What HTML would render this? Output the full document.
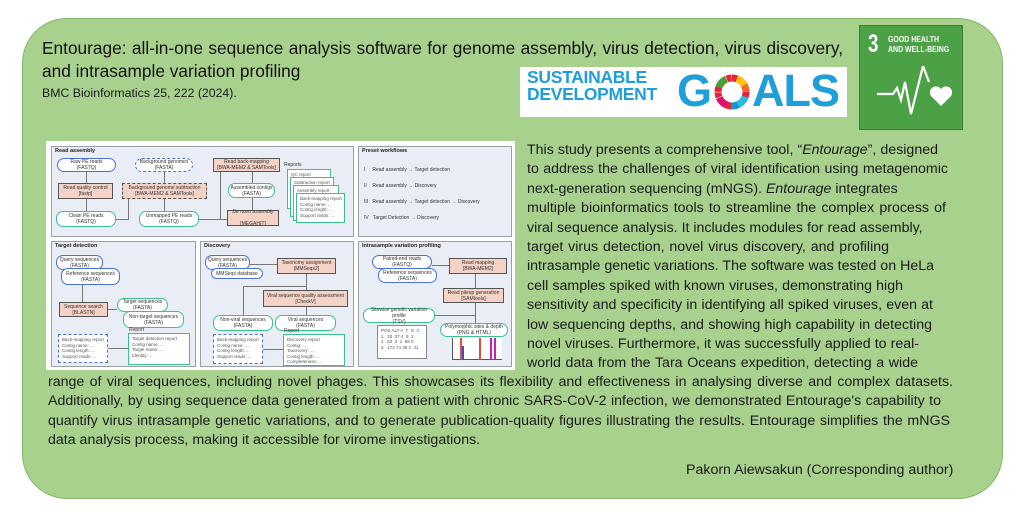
<!DOCTYPE html>
<html><head><meta charset="utf-8">
<style>
*{margin:0;padding:0;box-sizing:border-box}
body{width:1024px;height:526px;background:#fff;position:relative;overflow:hidden;font-family:"Liberation Sans",sans-serif;color:#1a1a1a}
.card{position:absolute;left:22px;top:18px;width:981px;height:481px;background:#a9d18e;border:1.5px solid #86b86a;border-radius:45px}
.t{position:absolute;white-space:nowrap}
.title{left:42px;font-size:17.3px;color:#111}
.fig{position:absolute;left:46px;top:141px;width:469px;height:229px;background:#fff}
.p{position:absolute;background:#e9edf5;border:1px solid #9aa0a8}
.ph{position:absolute;left:3px;top:1px;font-size:5.5px;font-weight:bold;color:#222}
.n{position:absolute;font-size:5px;line-height:6px;text-align:center;color:#333;display:flex;align-items:center;justify-content:center;flex-direction:column}
.b{background:#fff;border:1px solid #4a6fd8;border-radius:7px}
.g{background:#fff;border:1px solid #3dbf8f;border-radius:7px}
.k{background:#f4d2c6;border:1px solid #555}
.dash{border-style:dashed}
.doc{position:absolute;background:#fff;border:1px solid #3dbf8f;font-size:4.5px;line-height:5.5px;color:#555;padding:2px 3px;white-space:pre}
.docb{border:1px dashed #4a6fd8}
.line{position:absolute;background:#777}
.body{position:absolute;font-size:14.2px;line-height:19.4px;color:#1a1a1a}
.body span{display:block;white-space:nowrap;text-align:justify;text-align-last:justify;overflow:visible}
</style></head><body>
<div class="card"></div>
<div class="t title" style="top:38px;width:801px;text-align:justify;text-align-last:justify">Entourage: all-in-one sequence analysis software for genome assembly, virus detection, virus discovery,</div>
<div class="t title" style="top:61px">and intrasample variation profiling</div>
<div class="t" style="left:42px;top:86px;font-size:12.3px">BMC Bioinformatics 25, 222 (2024).</div>

<div style="position:absolute;left:520px;top:67px;width:327px;height:50px;background:#fff"></div>
<div class="t" style="left:527px;top:69px;font-size:17.5px;line-height:17px;font-weight:bold;color:#1f9fd9;letter-spacing:-0.3px">SUSTAINABLE<br>DEVELOPMENT</div>
<div class="t" style="left:677px;top:66px;font-size:45px;line-height:50px;font-weight:bold;color:#1f9fd9;letter-spacing:-1px">G</div>
<svg style="position:absolute;left:712px;top:72px" width="40" height="40" viewBox="-20 -20 40 40">
<g fill="none" stroke-width="7">
<circle r="14" stroke="#e5243b" stroke-dasharray="5 0.5" transform="rotate(-90)"/>
<circle r="14" stroke="#4c9f38" stroke-dasharray="11 77" transform="rotate(200)"/>
<circle r="14" stroke="#fcc30b" stroke-dasharray="11 77" transform="rotate(-70)"/>
<circle r="14" stroke="#26bde2" stroke-dasharray="11 77" transform="rotate(20)"/>
<circle r="14" stroke="#dd1367" stroke-dasharray="11 77" transform="rotate(110)"/>
<circle r="14" stroke="#fd6925" stroke-dasharray="6 82" transform="rotate(-30)"/>
<circle r="14" stroke="#0a97d9" stroke-dasharray="6 82" transform="rotate(65)"/>
</g></svg>
<div class="t" style="left:752px;top:66px;font-size:45px;line-height:50px;font-weight:bold;color:#1f9fd9;letter-spacing:-1px">ALS</div>

<div style="position:absolute;left:859px;top:25px;width:104px;height:105px;background:#4ca146;border:1px solid #3a7d35"></div>
<div class="t" style="left:868px;top:31px;font-size:25px;font-weight:bold;color:#fff;line-height:26px;transform:scaleX(0.75);transform-origin:left">3</div>
<div class="t" style="left:888px;top:34px;font-size:8.5px;font-weight:bold;color:#fff;line-height:10px;transform:scaleX(0.82);transform-origin:left">GOOD HEALTH<br>AND WELL-BEING</div>
<svg style="position:absolute;left:873px;top:66px" width="80" height="50" viewBox="0 0 80 50">
<polyline points="4,28 20,28 24,22 28,34 32,16 38,48 50,0 56,16" fill="none" stroke="#fff" stroke-width="2.2" stroke-linejoin="miter"/>
<path d="M68 40 L58 30 A5 5 0 0 1 68 23 A5 5 0 0 1 78 30 Z" fill="#fff"/>
</svg>

<div class="fig">
 <div class="p" style="left:5px;top:5px;width:303px;height:91px"><div class="ph">Read assembly</div></div>
 <div class="p" style="left:312px;top:5px;width:154px;height:91px"><div class="ph">Preset workflows</div>
  <div class="t" style="left:5px;top:20px;font-size:5px;color:#333">I&nbsp;&nbsp;&nbsp;&nbsp;&nbsp;Read assembly → Target detection</div>
  <div class="t" style="left:5px;top:36px;font-size:5px;color:#333">II&nbsp;&nbsp;&nbsp;&nbsp;Read assembly → Discovery</div>
  <div class="t" style="left:5px;top:52px;font-size:5px;color:#333">III&nbsp;&nbsp;&nbsp;Read assembly → Target detection → Discovery</div>
  <div class="t" style="left:5px;top:68px;font-size:5px;color:#333">IV&nbsp;&nbsp;&nbsp;Target Detection → Discovery</div>
 </div>
 <div class="p" style="left:5px;top:100px;width:145px;height:126px"><div class="ph">Target detection</div></div>
 <div class="p" style="left:154px;top:100px;width:154px;height:126px"><div class="ph">Discovery</div></div>
 <div class="p" style="left:312px;top:100px;width:154px;height:126px"><div class="ph">Intrasample variation profiling</div></div>
</div>
<div style="position:absolute;left:0;top:0">
 <div class="line" style="left:86px;top:172px;width:1px;height:11px"></div>
 <div class="line" style="left:86px;top:199px;width:1px;height:12px"></div>
 <div class="line" style="left:116px;top:219px;width:12px;height:1px"></div>
 <div class="line" style="left:128px;top:199px;width:1px;height:21px"></div>
 <div class="line" style="left:164px;top:172px;width:1px;height:11px"></div>
 <div class="line" style="left:164px;top:199px;width:1px;height:12px"></div>
 <div class="line" style="left:199px;top:219px;width:28px;height:1px"></div>
 <div class="line" style="left:220px;top:172px;width:1px;height:47px"></div>
 <div class="line" style="left:252px;top:198px;width:1px;height:12px"></div>
 <div class="line" style="left:252px;top:172px;width:1px;height:11px"></div>
 <div class="line" style="left:82px;top:285px;width:1px;height:17px"></div>
 <div class="line" style="left:108px;top:309px;width:9px;height:1px"></div>
 <div class="line" style="left:108px;top:348px;width:20px;height:1px"></div>
 <div class="line" style="left:250px;top:264px;width:27px;height:1px"></div>
 <div class="line" style="left:306px;top:274px;width:1px;height:16px"></div>
 <div class="line" style="left:243px;top:286px;width:63px;height:1px"></div>
 <div class="line" style="left:243px;top:286px;width:1px;height:29px"></div>
 <div class="line" style="left:306px;top:307px;width:1px;height:8px"></div>
 <div class="line" style="left:263px;top:349px;width:20px;height:1px"></div>
 <div class="line" style="left:432px;top:265px;width:17px;height:1px"></div>
 <div class="line" style="left:475px;top:274px;width:1px;height:14px"></div>
 <div class="line" style="left:475px;top:303px;width:1px;height:20px"></div>
 <div class="line" style="left:435px;top:315px;width:40px;height:1px"></div>
 <div class="n b" style="left:57px;top:158px;width:59px;height:14px">Raw PE reads<br>(FASTQ)</div>
 <div class="n k" style="left:58px;top:183px;width:55px;height:16px">Read quality control<br>[fastp]</div>
 <div class="n g" style="left:56px;top:211px;width:60px;height:16px">Clean PE reads<br>(FASTQ)</div>
 <div class="n b dash" style="left:135px;top:158px;width:58px;height:14px">Background genomes<br>(FASTA)</div>
 <div class="n k dash" style="left:122px;top:183px;width:85px;height:16px">Background genome subtraction<br>[BWA-MEM2 &amp; SAMTools]</div>
 <div class="n g" style="left:139px;top:211px;width:60px;height:16px">Unmapped PE reads<br>(FASTQ)</div>
 <div class="n k" style="left:213px;top:158px;width:67px;height:14px">Read back-mapping<br>[BWA-MEM2 &amp; SAMTools]</div>
 <div class="n g" style="left:228px;top:183px;width:47px;height:15px">Assembled contigs<br>(FASTA)</div>
 <div class="n k" style="left:227px;top:210px;width:52px;height:16px"><i>De novo assembly</i><br>[MEGAHIT]</div>
 <div class="t" style="left:284px;top:162px;font-size:5px;color:#333">Reports</div>
 <div class="doc" style="left:287px;top:169px;width:44px;height:40px">QC report</div>
 <div class="doc" style="left:290px;top:177px;width:44px;height:40px">Subtraction report</div>
 <div class="doc" style="left:293px;top:185px;width:46px;height:36px">Assembly report
Contig ...</div>
 <div class="doc" style="left:296px;top:193px;width:49px;height:30px">Back-mapping report
Contig name: ...
Contig length: ...
Support reads: ...</div>
 <div class="n b" style="left:56px;top:255px;width:47px;height:15px">Query sequences<br>(FASTA)</div>
 <div class="n b" style="left:61px;top:268px;width:59px;height:17px">Reference sequences<br>(FASTA)</div>
 <div class="n k" style="left:59px;top:302px;width:49px;height:15px">Sequence search<br>[BLASTN]</div>
 <div class="n g" style="left:117px;top:298px;width:51px;height:14px">Target sequences<br>(FASTA)</div>
 <div class="n g" style="left:123px;top:311px;width:61px;height:17px">Non-target sequences<br>(FASTA)</div>
 <div class="doc docb" style="left:58px;top:334px;width:50px;height:29px">Back-mapping report
Contig name: ...
Contig length: ...
Support reads: ...</div>
 <div class="t" style="left:129px;top:327px;font-size:5px;color:#333">Report</div>
 <div class="doc" style="left:128px;top:333px;width:62px;height:32px">Target detection report
Contig name: ...
Target name: ...
Identity: ...</div>
 <div class="n b" style="left:205px;top:255px;width:45px;height:15px">Query sequences<br>(FASTA)</div>
 <div class="n b" style="left:211px;top:268px;width:52px;height:11px">MMSeqs database</div>
 <div class="n k" style="left:277px;top:258px;width:59px;height:16px">Taxonomy assignment<br>[MMSeqs2]</div>
 <div class="n k" style="left:263px;top:290px;width:85px;height:17px">Viral sequence quality assessment<br>[CheckV]</div>
 <div class="n g" style="left:213px;top:315px;width:60px;height:16px">Non-viral sequences<br>(FASTA)</div>
 <div class="n g" style="left:275px;top:315px;width:61px;height:16px">Viral sequences<br>(FASTA)</div>
 <div class="doc docb" style="left:213px;top:334px;width:50px;height:30px">Back-mapping report
Contig name: ...
Contig length: ...
Support reads: ...</div>
 <div class="t" style="left:284px;top:328px;font-size:5px;color:#333">Report</div>
 <div class="doc" style="left:283px;top:334px;width:62px;height:32px">Discovery report
Contig: ...
Taxonomy: ...
Contig length: ...
Completeness: ...</div>
 <div class="n b" style="left:372px;top:255px;width:60px;height:14px">Paired-end reads<br>(FASTQ)</div>
 <div class="n b" style="left:378px;top:268px;width:59px;height:15px">Reference sequences<br>(FASTA)</div>
 <div class="n k" style="left:449px;top:258px;width:58px;height:16px">Read mapping<br>[BWA-MEM2]</div>
 <div class="n k" style="left:443px;top:288px;width:61px;height:15px">Read pileup generation<br>[SAMtools]</div>
 <div class="n g" style="left:363px;top:308px;width:72px;height:15px">Sitewise genetic variation profile<br>(TSV)</div>
 <div class="n g" style="left:440px;top:323px;width:68px;height:14px">Polymorphic sites &amp; depth<br>(PNG &amp; HTML)</div>
 <div class="doc" style="left:377px;top:325px;width:50px;height:34px;border-color:#888">POS ALT A  T  G  C
1   20  37 4  8  2
2   62  3  1  58 0
3   174 74 35 2  31</div>
 <div style="position:absolute;left:452px;top:338px;width:50px;height:22px;background:#fff;border-left:1px solid #555;border-bottom:1px solid #555">
  <div style="position:absolute;left:7px;top:0;width:2px;height:22px;background:#e05030"></div>
  <div style="position:absolute;left:26px;top:0;width:2px;height:22px;background:#e05030"></div>
  <div style="position:absolute;left:37px;top:0;width:2px;height:22px;background:#c020c0"></div>
  <div style="position:absolute;left:41px;top:0;width:2px;height:22px;background:#c020c0"></div>
  <div style="position:absolute;left:9px;top:8px;width:2px;height:14px;background:#3050d0"></div>
 </div>
</div>

<div class="body" style="left:527px;top:141px">
<span style="width:411px">This study presents a comprehensive tool, “<i>Entourage</i>”, designed</span>
<span style="width:421px">to address the challenges of viral identification using metagenomic</span>
<span style="width:369px">next-generation sequencing (mNGS). <i>Entourage</i> integrates</span>
<span style="width:419px">multiple bioinformatics tools to streamline the complex process of</span>
<span style="width:393px">viral sequence analysis. It includes modules for read assembly,</span>
<span style="width:362px">target virus detection, novel virus discovery, and profiling</span>
<span style="width:407px">intrasample genetic variations. The software was tested on HeLa</span>
<span style="width:376px">cell samples spiked with known viruses, demonstrating high</span>
<span style="width:406px">sensitivity and specificity in identifying all spiked viruses, even at</span>
<span style="width:405px">low sequencing depths, and showing high capability in detecting</span>
<span style="width:392px">novel viruses. Furthermore, it was successfully applied to real-</span>
<span style="width:391px">world data from the Tara Oceans expedition, detecting a wide</span>
</div>
<div class="body" style="left:48px;top:373px">
<span style="width:905px">range of viral sequences, including novel phages. This showcases its flexibility and effectiveness in analysing diverse and complex datasets.</span>
<span style="width:893px">Additionally, by using sequence data generated from a patient with chronic SARS-CoV-2 infection, we demonstrated Entourage's capability to</span>
<span style="width:902px">quantify virus intrasample genetic variations, and to generate publication-quality figures illustrating the results. Entourage simplifies the mNGS</span>
<span style="width:430px">data analysis process, making it accessible for virome investigations.</span>
</div>
<div class="body" style="left:686px;top:461px"><span style="width:267px">Pakorn Aiewsakun (Corresponding author)</span></div>
</body></html>
